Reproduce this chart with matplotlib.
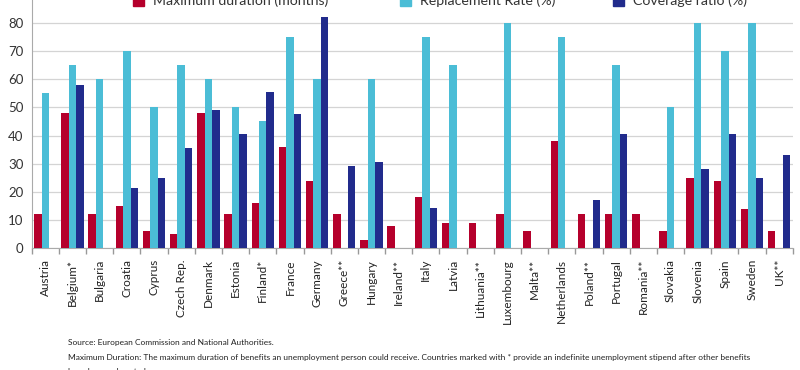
import matplotlib
matplotlib.use("Agg")
import matplotlib.pyplot as plt
import numpy as np
from matplotlib.patches import Patch

plt.rcParams['font.family'] = ['Lato', 'DejaVu Sans']

countries = ["Austria", "Belgium*", "Bulgaria", "Croatia", "Cyprus", "Czech Rep.", "Denmark",
             "Estonia", "Finland*", "France", "Germany", "Greece**", "Hungary", "Ireland**",
             "Italy", "Latvia", "Lithuania**", "Luxembourg", "Malta**", "Netherlands",
             "Poland**", "Portugal", "Romania**", "Slovakia", "Slovenia", "Spain", "Sweden", "UK**"]
max_duration = [12, 48, 12, 15, 6, 5, 48, 12, 16, 36, 24, 12, 3, 8,
                18, 9, 9, 12, 6, 38, 12, 12, 12, 6, 25, 24, 14, 6]
replacement_rate = [55, 65, 60, 70, 50, 65, 60, 50, 45, 75, 60, 0, 60, 0,
                    75, 65, 0, 80, 0, 75, 0, 65, 0, 50, 80, 70, 80, 0]
coverage_ratio = [0, 58, 0, 21.5, 25, 35.7, 49, 40.6, 55.6, 47.7, 82, 29.2, 30.6, 0,
                  14.3, 0, 0, 0, 0, 0, 17, 40.5, 0, 0, 28, 40.5, 24.8, 33.1]
series_names = ["Maximum duration (months)", "Replacement Rate (%)", "Coverage ratio (%)"]
yticks = [0, 10, 20, 30, 40, 50, 60, 70, 80]

c_red = "#b5002c"
c_cyan = "#4bbdd6"
c_navy = "#212b8c"
colors = [c_red, c_cyan, c_navy]

fig = plt.figure(figsize=(8, 3.7), dpi=100)
ax = fig.add_axes([0.0396, 0.3297, 0.9514, 0.6703])

x = np.arange(len(countries))
w = 0.275
ax.bar(x - w, max_duration, w, color=c_red, zorder=3)
ax.bar(x, replacement_rate, w, color=c_cyan, zorder=3)
ax.bar(x + w, coverage_ratio, w, color=c_navy, zorder=3)

ax.set_xlim(-0.5, len(countries) - 0.5)
ax.set_ylim(0, 88.2)
ax.set_yticks(yticks)
ax.set_yticklabels([str(v) for v in yticks], fontsize=9.5, color="#333333")
ax.tick_params(axis='y', length=0, pad=6)
ax.yaxis.grid(True, color="#d4d4d4", linewidth=0.9, zorder=0)
ax.set_axisbelow(True)

# Category boundary ticks
ax.set_xticks(np.arange(-0.5, len(countries), 1.0))
ax.set_xticklabels([])
ax.tick_params(axis='x', which='major', length=4, color="#999999", width=1)
ax.set_xticks(x, minor=True)
ax.set_xticklabels(countries, minor=True, rotation=90, fontsize=8.5, color="#222222")
ax.tick_params(axis='x', which='minor', length=0, pad=8)

for s in ["top", "right"]:
    ax.spines[s].set_visible(False)
ax.spines["left"].set_color("#aaaaaa")
ax.spines["bottom"].set_color("#aaaaaa")

legend_x = [133 / 800, 400 / 800, 613 / 800]
for name, col, lx in zip(series_names, colors, legend_x):
    fig.legend([Patch(color=col)], [name], loc="center left", bbox_to_anchor=(lx, 0.997),
               frameon=False, fontsize=10.2, handlelength=0.8, handleheight=0.8,
               handletextpad=0.6, labelcolor="#333333", borderpad=0, borderaxespad=0)

fig.text(0.085, 0.068, "Source: European Commission and National Authorities.",
         fontsize=6, color="#222222")
fig.text(0.085, 0.028, "Maximum Duration: The maximum duration of benefits an unemployment person could receive. "
         "Countries marked with * provide an indefinite unemployment stipend after other benefits",
         fontsize=6, color="#222222")
fig.text(0.085, -0.012, "have been exhausted.", fontsize=6, color="#222222")

fig.savefig("out.png", dpi=100, facecolor="white")
